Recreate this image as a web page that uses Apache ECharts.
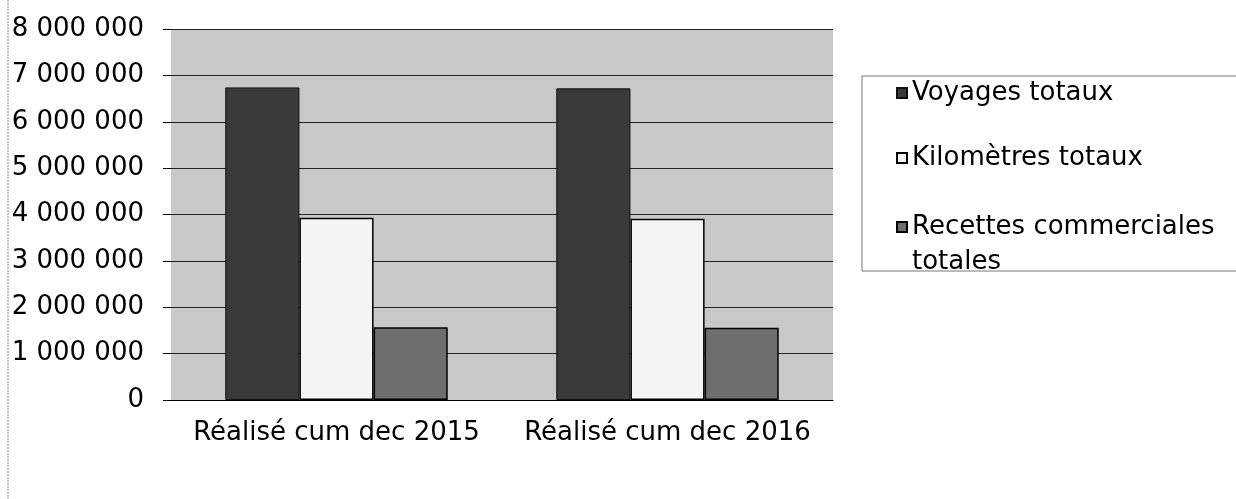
<!DOCTYPE html>
<html>
<head>
<meta charset="utf-8">
<script src="https://cdn.jsdelivr.net/npm/echarts@6/dist/echarts.min.js"></script>
<style>
html,body{margin:0;padding:0;background:#fff;}
#main{width:1236px;height:499px;}
</style>
</head>
<body>
<div id="main"></div>
<script>
var categories = ['Réalisé cum dec 2015', 'Réalisé cum dec 2016'];
var seriesNames = ['Voyages totaux', 'Kilomètres totaux', 'Recettes commerciales totales'];
var voyages = [6740000, 6720000];
var kilometres = [3930000, 3910000];
var recettes = [1570000, 1560000];
var yTicks = [0, 8000000, 1000000]; // min, max, interval

var FONT = 'DejaVu Sans';

function fmt(v) {
    return String(v).replace(/\B(?=(\d{3})+(?!\d))/g, ' ');
}

var myChart = echarts.init(document.getElementById('main'));
var option = {
    animation: false,
    backgroundColor: '#fff',
    textStyle: { fontFamily: FONT },
    grid: {
        left: 171, right: 403, top: 29, bottom: 99,
        show: true, backgroundColor: '#c8c8c8', borderWidth: 0
    },
    legend: [
        {
            data: [seriesNames[0]], left: 896, top: 75.5, orient: 'vertical',
            icon: 'rect', itemWidth: 10, itemHeight: 10, padding: 0,
            textStyle: { fontFamily: FONT, fontSize: 26, color: '#000', lineHeight: 35 }
        },
        {
            data: [seriesNames[1]], left: 896, top: 140.5, orient: 'vertical',
            icon: 'rect', itemWidth: 10, itemHeight: 10, padding: 0,
            textStyle: { fontFamily: FONT, fontSize: 26, color: '#000', lineHeight: 35 }
        },
        {
            // leading blank line keeps the marker level with the first text line
            data: [seriesNames[2]], left: 896, top: 174.5, orient: 'vertical',
            icon: 'rect', itemWidth: 10, itemHeight: 10, padding: 0,
            formatter: function () { return ' \nRecettes commerciales\ntotales'; },
            textStyle: { fontFamily: FONT, fontSize: 26, color: '#000', lineHeight: 35 }
        }
    ],
    xAxis: {
        type: 'category',
        data: categories,
        axisLine: { lineStyle: { color: '#000', width: 1 } },
        axisTick: { length: 8, interval: 0, lineStyle: { color: '#000' } },
        axisLabel: { fontFamily: FONT, fontSize: 26, color: '#000', margin: 20, interval: 0 }
    },
    yAxis: {
        type: 'value',
        min: yTicks[0], max: yTicks[1], interval: yTicks[2],
        axisLine: { show: false },
        axisTick: { show: true, length: 8, lineStyle: { color: '#000' } },
        axisLabel: { fontFamily: FONT, fontSize: 26, color: '#000', margin: 27, formatter: fmt },
        splitLine: { lineStyle: { color: '#222', width: 1 } }
    },
    series: [
        {
            name: seriesNames[0], type: 'bar', data: voyages,
            barWidth: '22.4%', barGap: '0%',
            itemStyle: { color: '#3a3a3a', borderColor: '#111', borderWidth: 1 }
        },
        {
            name: seriesNames[1], type: 'bar', data: kilometres,
            barWidth: '22.4%', barGap: '0%',
            itemStyle: { color: '#f4f4f4', borderColor: '#000', borderWidth: 1.5 }
        },
        {
            name: seriesNames[2], type: 'bar', data: recettes,
            barWidth: '22.4%', barGap: '0%',
            itemStyle: { color: '#6e6e6e', borderColor: '#000', borderWidth: 1.5 }
        }
    ],
    graphic: [
        {
            type: 'line', shape: { x1: 8, y1: 0, x2: 8, y2: 499 },
            style: { stroke: '#888', lineWidth: 1, lineDash: [2, 1] }, silent: true
        },
        {
            type: 'rect', shape: { x: 862, y: 76, width: 380, height: 195 },
            style: { fill: 'none', stroke: '#777', lineWidth: 1 }, silent: true, z: -1
        }
    ]
};
myChart.setOption(option);
</script>
</body>
</html>
